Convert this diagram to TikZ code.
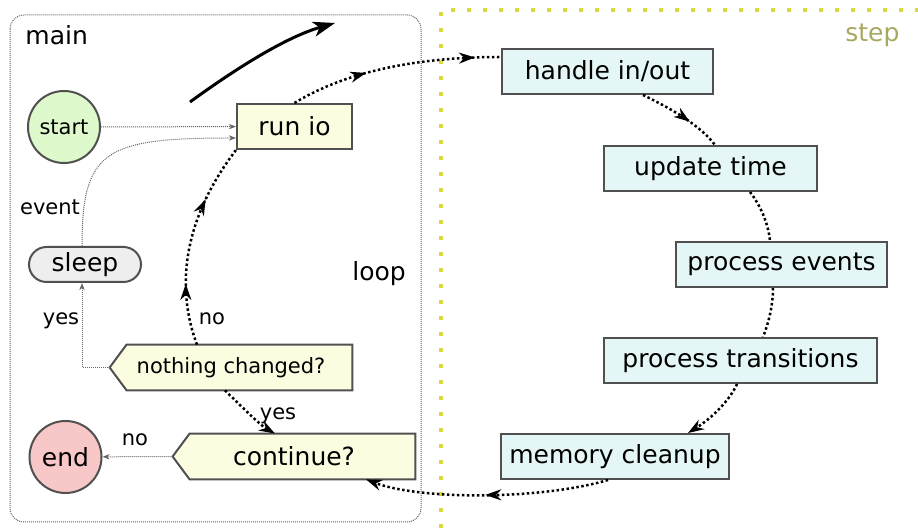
\documentclass[tikz,border=0pt]{standalone}
\usepackage{fontspec}
\setmainfont{DejaVu Sans}
\usetikzlibrary{arrows.meta,decorations.markings,backgrounds}

\definecolor{framegray}{RGB}{80,80,80}
\definecolor{startfill}{RGB}{222,250,204}
\definecolor{endfill}{RGB}{248,200,200}
\definecolor{iofill}{RGB}{252,252,224}
\definecolor{stepfill}{RGB}{228,246,246}
\definecolor{sleepfill}{RGB}{238,238,238}
\definecolor{stepline}{RGB}{216,216,64}
\definecolor{steptext}{RGB}{168,168,96}
\definecolor{thingray}{RGB}{100,100,100}

\newcommand\txtbig{\fontsize{12.5}{15}\selectfont}
\newcommand\txtsmall{\fontsize{10.5}{13}\selectfont}

\begin{document}
\begin{tikzpicture}[x=0.5pt, y=-0.5pt,
  loophead/.tip={Stealth[length=8pt,width=5.5pt,inset=2.6pt]},
  thinhead/.tip={Stealth[length=3.5pt,width=2.6pt,inset=1pt]},
  nodebase/.style={draw=framegray, line width=1pt, inner sep=0pt, text=black},
  stepbox/.style={nodebase, rectangle, fill=stepfill, minimum height=22.5pt, font=\txtbig},
  iobox/.style={nodebase, rectangle, fill=iofill, minimum height=22.5pt, font=\txtbig},
  termnode/.style={nodebase, circle, minimum size=36pt},
  decision/.style={rectangle, inner sep=0pt, minimum height=22.5pt, minimum width=121pt},
  decshape/.style={draw=framegray, line width=1pt, fill=iofill, line join=miter},
  loopedge/.style={line width=1.25pt, dash pattern=on 1.25pt off 1.25pt},
  thinedge/.style={draw=thingray, line width=0.5pt, dash pattern=on 0.5pt off 0.5pt, -{thinhead}},
  midhead/.style={postaction={decorate,decoration={markings,mark=at position #1 with {\arrow{loophead}}}}},
  edgelabel/.style={anchor=base, font=\txtsmall, inner sep=0pt},
  titlelabel/.style={anchor=base west, font=\txtbig, inner sep=0pt},
  frame/.style={draw=thingray, line width=0.5pt, dash pattern=on 0.5pt off 0.5pt, rounded corners=7pt},
  yellowdots/.style={draw=stepline, line width=1.8pt, dash pattern=on 1.8pt off 6.2pt},
]
\useasboundingbox (0,0) rectangle (918,528);

% nodes of the main loop
\node[termnode, fill=startfill, font=\txtsmall] (start) at (64,127) {start};
\node[iobox, minimum width=57.5pt] (runio) at (294.5,126.5) {run io};
\node[nodebase, rectangle, rounded corners=8.75pt, fill=sleepfill,
      minimum width=56pt, minimum height=17.5pt, font=\txtbig] (sleep) at (85,264.5) {sleep};
\node[decision, font=\txtsmall] (nc) at (231,367.5) {nothing changed?};
\node[decision, font=\txtbig] (cont) at (294,456.5) {continue?};
\node[termnode, fill=endfill, font=\txtbig] (end) at (65.5,457) {end};

% nodes of one step
\node[stepbox, minimum width=105.5pt] (hio) at (607.5,71.5) {handle in/out};
\node[stepbox, minimum width=106.5pt] (upd) at (710.5,168.5) {update time};
\node[stepbox, minimum width=105.5pt] (pev) at (781.5,264.5) {process events};
\node[stepbox, minimum width=136.5pt] (ptr) at (740.5,360.5) {process transitions};
\node[stepbox, minimum width=114pt] (mem) at (615,456.5) {memory cleanup};

% titles
\node[titlelabel] (mainlbl) at (25,45) {main};
\node[titlelabel, text=steptext] (steplbl) at (845,42) {step};
\node[titlelabel] (looplbl) at (352,281) {loop};

% frames and decision outlines
\begin{scope}[on background layer]
  \draw[frame] (10,15) rectangle (421,522);
  \draw[yellowdots] (441,528) -- (441,10) -- (918,10);
  \draw[decshape] (nc.west) -- ([xshift=8.5pt]nc.north west) -- (nc.north east)
    -- (nc.south east) -- ([xshift=8.5pt]nc.south west) -- cycle;
  \draw[decshape] (cont.west) -- ([xshift=8.5pt]cont.north west) -- (cont.north east)
    -- (cont.south east) -- ([xshift=8.5pt]cont.south west) -- cycle;
\end{scope}

% thin control edges
\draw[thinedge] (start) -- (runio);
\draw[thinedge] ([xshift=-1.5pt]sleep.north) .. controls (82,150) and (105,138) .. ([yshift=-5.75pt]runio.west);
\draw[thinedge] (nc.west) -| ([xshift=-1.5pt]sleep.south);
\draw[thinedge] (cont.west) -- (end);

% the loop
\draw[loopedge, midhead=39pt, midhead=-13pt] (runio.north) .. controls (335,78) and (400,57) .. ([yshift=7.25pt]hio.west);
\draw[loopedge, midhead=27pt] ([xshift=17.75pt]hio.south) .. controls (670,108) and (700,125) .. ([xshift=2.25pt]upd.north);
\draw[loopedge] ([xshift=19.75pt]upd.south) .. controls (760,205) and (768,222) .. ([xshift=-5.75pt]pev.north);
\draw[loopedge] ([xshift=-4.25pt]pev.south) .. controls (773,305) and (769,322) .. ([xshift=11.25pt]ptr.north);
\draw[loopedge, -{loophead}] ([xshift=-1.75pt]ptr.south) .. controls (730,400) and (712,418) .. ([xshift=36.5pt]mem.north);
\draw[loopedge, -{loophead}, midhead=62pt] ([xshift=-3.5pt]mem.south) .. controls (540,500) and (420,500) .. ([xshift=36pt]cont.south);
\draw[loopedge, -{loophead}] ([xshift=-3pt]nc.south) .. controls (240,405) and (260,425) .. ([xshift=-9.5pt]cont.north);
\draw[loopedge, midhead=31pt, midhead=-29pt] ([xshift=-17pt]nc.north) .. controls (180,300) and (175,230) .. (runio.south west);

% direction of travel
\coordinate (swirlA) at (190,102);
\coordinate (swirlB) at (335,23);
\draw[line width=1.5pt, -{Stealth[length=11pt,width=7.5pt,inset=3pt]}] (swirlA) .. controls (245,62) and (290,36) .. (swirlB);

% edge labels
\node[edgelabel] (lblevent) at (50,215) {event};
\node[edgelabel] (lblyes1) at (61,325) {yes};
\node[edgelabel] (lblno1) at (212,325) {no};
\node[edgelabel] (lblyes2) at (278,420) {yes};
\node[edgelabel] (lblno2) at (135,446) {no};
\end{tikzpicture}
\end{document}
